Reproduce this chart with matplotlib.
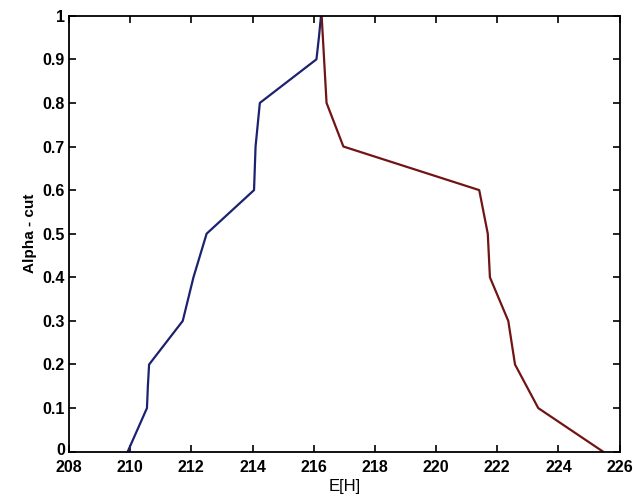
import matplotlib
matplotlib.use('Agg')
import matplotlib.pyplot as plt
import matplotlib.transforms as mtransforms

# alpha-cut levels
alpha = [0.0, 0.1, 0.15, 0.2, 0.3, 0.4, 0.5, 0.6, 0.7, 0.8, 0.9, 0.95, 1.0]
# left (lower) bound of E[H]
e_left = [209.92, 210.55, 210.58, 210.62, 211.72, 212.07, 212.50, 214.05, 214.10, 214.24, 216.09, 216.17, 216.24]

alpha_r = [0.0, 0.1, 0.2, 0.3, 0.4, 0.5, 0.6, 0.7, 0.8, 0.9, 1.0]
# right (upper) bound of E[H]
e_right = [225.46, 223.34, 222.58, 222.36, 221.76, 221.69, 221.41, 216.97, 216.42, 216.34, 216.26]

plt.rcParams['font.family'] = ['Liberation Sans', 'DejaVu Sans']

fig = plt.figure(figsize=(6.33, 4.99), dpi=100)
ax = fig.add_axes([0.1089, 0.0948, 0.870, 0.8737])

ax.plot(e_left, alpha, color='#1c2270', lw=1.6)
ax.plot(e_right, alpha_r, color='#701414', lw=1.6)

ax.set_xlim(208, 226)
ax.set_ylim(0, 1)
ax.set_xticks(range(208, 227, 2))
ax.set_yticks([i / 10 for i in range(11)])
ax.set_yticklabels(['0', '0.1', '0.2', '0.3', '0.4', '0.5', '0.6', '0.7', '0.8', '0.9', '1'])
ax.tick_params(direction='in', top=True, right=True, length=5, width=1.2,
               labelsize=11.5)
ax.tick_params(axis='x', pad=6)
ax.tick_params(axis='y', pad=3)
for lab in ax.get_xticklabels() + ax.get_yticklabels():
    lab.set_fontweight('bold')
# the '0' sits just above '208' in the original, lift it a couple of pixels
lab0 = ax.get_yticklabels()[0]
lab0.set_transform(lab0.get_transform() + mtransforms.ScaledTranslation(0, 2 / 72, fig.dpi_scale_trans))
for s in ax.spines.values():
    s.set_linewidth(1.3)

ax.set_xlabel('E[H]', fontsize=12, labelpad=3)
ax.set_ylabel('Alpha - cut', fontsize=11, fontweight='bold', labelpad=4)

fig.savefig('out.png', dpi=100)
